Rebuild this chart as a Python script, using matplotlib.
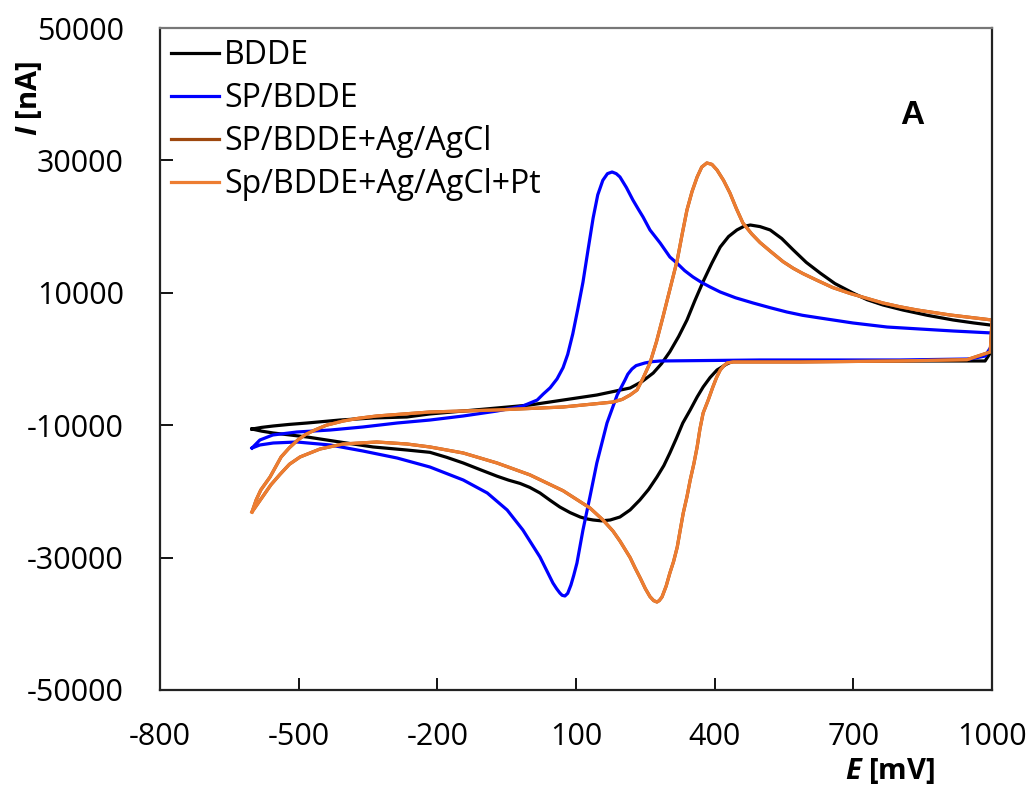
import matplotlib.pyplot as plt

plt.rcParams['font.family'] = ['Open Sans', 'DejaVu Sans']
plt.rcParams['axes.unicode_minus'] = False
plt.rcParams['mathtext.fontset'] = 'custom'
plt.rcParams['mathtext.bfit'] = 'Open Sans:italic:bold'

# BDDE: forward scan -600 -> 1000 mV, then back to -600 mV
bdde_E = [-601, -580, -555, -520, -482, -411, -339, -266, -216, -144, -71, 0, 72, 145,
          217, 243, 267, 285, 303, 322, 340, 357, 375, 394, 412, 430, 448, 462, 477,
          498, 520, 545, 570, 598, 628, 660, 699, 730, 764, 807, 860, 916, 960, 1000,
          997, 985, 900, 700, 500, 440, 425, 405, 390, 375, 362, 347, 331, 317, 303,
          290, 275, 257, 238, 217, 195, 174, 155, 137, 123, 109, 87, 65, 44, 22, 0,
          -21, -46, -71, -108, -144, -180, -216, -266, -339, -411, -482, -555, -580,
          -601]
bdde_I = [-10580, -10330, -10120, -9880, -9670, -9220, -8910, -8760, -8300, -7860,
          -7400, -6950, -6200, -5440, -4380, -3400, -2120, -700, 1100, 3400, 5890,
          8800, 11700, 14500, 16920, 18500, 19490, 20000, 20240, 20000, 19490, 18200,
          16470, 14600, 12990, 11400, 9970, 8950, 8160, 7400, 6600, 5890, 5450, 5100,
          1000, -300, -300, -300, -300, -300, -800, -1660, -2800, -4230, -5740, -7700,
          -9670, -12000, -14200, -16100, -17830, -19700, -21300, -22800, -23870,
          -24320, -24450, -24320, -24150, -23870, -23200, -22360, -21350, -20240,
          -19400, -18800, -18300, -17700, -16700, -15710, -14850, -14100, -13750,
          -13290, -12540, -11780, -11180, -10900, -10580]

# SP/BDDE
sp_E = [-601, -584, -556, -504, -432, -361, -287, -216, -144, -71, -15, 16, 29, 44,
        59, 72, 82, 93, 104, 115, 126, 137, 147, 158, 168, 178, 187, 195, 209, 223,
        235, 245, 260, 282, 303, 318, 335, 353, 372, 390, 412, 445, 483, 520, 556,
        590, 628, 699, 773, 844, 916, 1000,
        1000, 985, 952, 801, 498, 282, 265, 249, 230, 221, 212, 206, 189, 167, 145,
        130, 115, 102, 95, 89, 82, 76, 70, 65, 58, 50, 22, -15, -49, -92, -144, -216,
        -287, -361, -432, -504, -555, -584, -601]
sp_I = [-13450, -12240, -11480, -11030, -10730, -10270, -9670, -9220, -8610, -7860,
        -7100, -6200, -5300, -4350, -3000, -1300, 700, 3800, 7600, 11600, 16500,
        21300, 24800, 27000, 28000, 28250, 28000, 27500, 25900, 24020, 22600, 21450,
        19490, 17520, 15410, 14500, 13350, 12390, 11550, 10880, 10120, 9250, 8460,
        7750, 7100, 6600, 6190, 5440, 4830, 4530, 4230, 3930,
        2100, 450, 0, -150, -150, -300, -400, -600, -1000, -1510, -2300, -3170, -5440,
        -9670, -15710, -20850, -25830, -30820, -32700, -34140, -35400, -35800,
        -35700, -35350, -34700, -33840, -29910, -25830, -22810, -20240, -18280,
        -16320, -14960, -13900, -12990, -12540, -12690, -12990, -13450]

# Sp/BDDE+Ag/AgCl+Pt
pt_E = [-601, -592, -582, -562, -538, -520, -502, -485, -465, -440, -404, -370, -331,
        -216, -71, 72, 180, 200, 217, 232, 245, 260, 274, 288, 303, 319, 330, 340,
        351, 362, 372, 383, 394, 405, 419, 433, 447, 461, 480, 498, 520, 548, 570,
        591, 621, 655, 693, 730, 764, 800, 838, 909, 1000,
        996, 946, 801, 585, 470, 440, 427, 420, 412, 404, 396, 386, 375, 368, 362,
        355, 347, 340, 332, 325, 319, 311, 303, 295, 286, 280, 275, 268, 260, 250,
        239, 228, 217, 195, 180, 158, 130, 72, 0, -71, -144, -216, -266, -331, -404,
        -454, -497, -520, -540, -560, -580, -601]
pt_I = [-23110, -21300, -19790, -17830, -14800, -13400, -12240, -11400, -10730,
        -10000, -9370, -8950, -8610, -8010, -7700, -7250, -6500, -6100, -5440, -4680,
        -2900, -600, 2600, 6340, 10500, 14950, 19000, 22510, 25300, 27490, 29000,
        29610, 29400, 28550, 27000, 25070, 22700, 20540, 18900, 17600, 16300, 14700,
        13700, 12900, 11900, 10800, 9900, 9150, 8460, 7900, 7400, 6650, 5890,
        1060, -100, -300, -450, -450, -450, -600, -1000, -1660, -2800, -4230, -6200,
        -8160, -10600, -13290, -15800, -18280, -20800, -23260, -26000, -28400,
        -30600, -32330, -34300, -35950, -36500, -36710, -36500, -35900, -34700,
        -33100, -31600, -30000, -27500, -26000, -24300, -22500, -19900, -17500,
        -15710, -14200, -13290, -12840, -12540, -12840, -13600, -14800, -15900,
        -17400, -19000, -21000, -23110]

# SP/BDDE+Ag/AgCl lies under the Pt curve
ag_E = list(pt_E)
ag_I = list(pt_I)

fig = plt.figure(figsize=(10.35, 7.89), dpi=100)
ax = fig.add_axes([0.1546, 0.1255, 0.8039, 0.839])

ax.plot(bdde_E, bdde_I, color='black', lw=2.3, label='BDDE')
ax.plot(sp_E, sp_I, color='#0000FF', lw=2.3, label='SP/BDDE')
ax.plot(ag_E, ag_I, color='#9E480E', lw=2.3, label='SP/BDDE+Ag/AgCl')
ax.plot(pt_E, pt_I, color='#ED7D31', lw=2.3, label='Sp/BDDE+Ag/AgCl+Pt')

ax.set_xlim(-800, 1000)
ax.set_ylim(-50000, 50000)
ax.set_xticks([-800, -500, -200, 100, 400, 700, 1000])
ax.set_yticks(range(-50000, 50001, 20000))
ax.tick_params(direction='in', length=9, width=1.3, labelsize=22)
ax.tick_params(axis='x', pad=23)
ax.tick_params(axis='y', pad=26)

for side in ['left', 'bottom', 'right']:
    ax.spines[side].set_linewidth(1.6)
    ax.spines[side].set_color('#222222')
ax.spines['top'].set_linewidth(1.6)
ax.spines['top'].set_color('#777777')

ax.legend(loc='upper left', bbox_to_anchor=(0.0, 1.0), frameon=False, fontsize=23,
          handlelength=1.5, handletextpad=0.15, labelspacing=0.31, borderpad=0.05,
          borderaxespad=0.3)

# panel letter and axis titles
fig.text(912 / 1035, 1 - 115 / 789, 'A', fontsize=24, fontweight='bold',
         family='Liberation Sans', ha='center', va='center')
fig.text(890 / 1035, 1 - 771 / 789, r'$\mathbfit{E}$ [mV]', fontsize=21,
         fontweight='bold', ha='center', va='center')
fig.text(29 / 1035, 1 - 98 / 789, r'$\mathbfit{I}$ [nA]', fontsize=21,
         fontweight='bold', ha='center', va='center', rotation=90)

fig.savefig('out.png', dpi=100)
